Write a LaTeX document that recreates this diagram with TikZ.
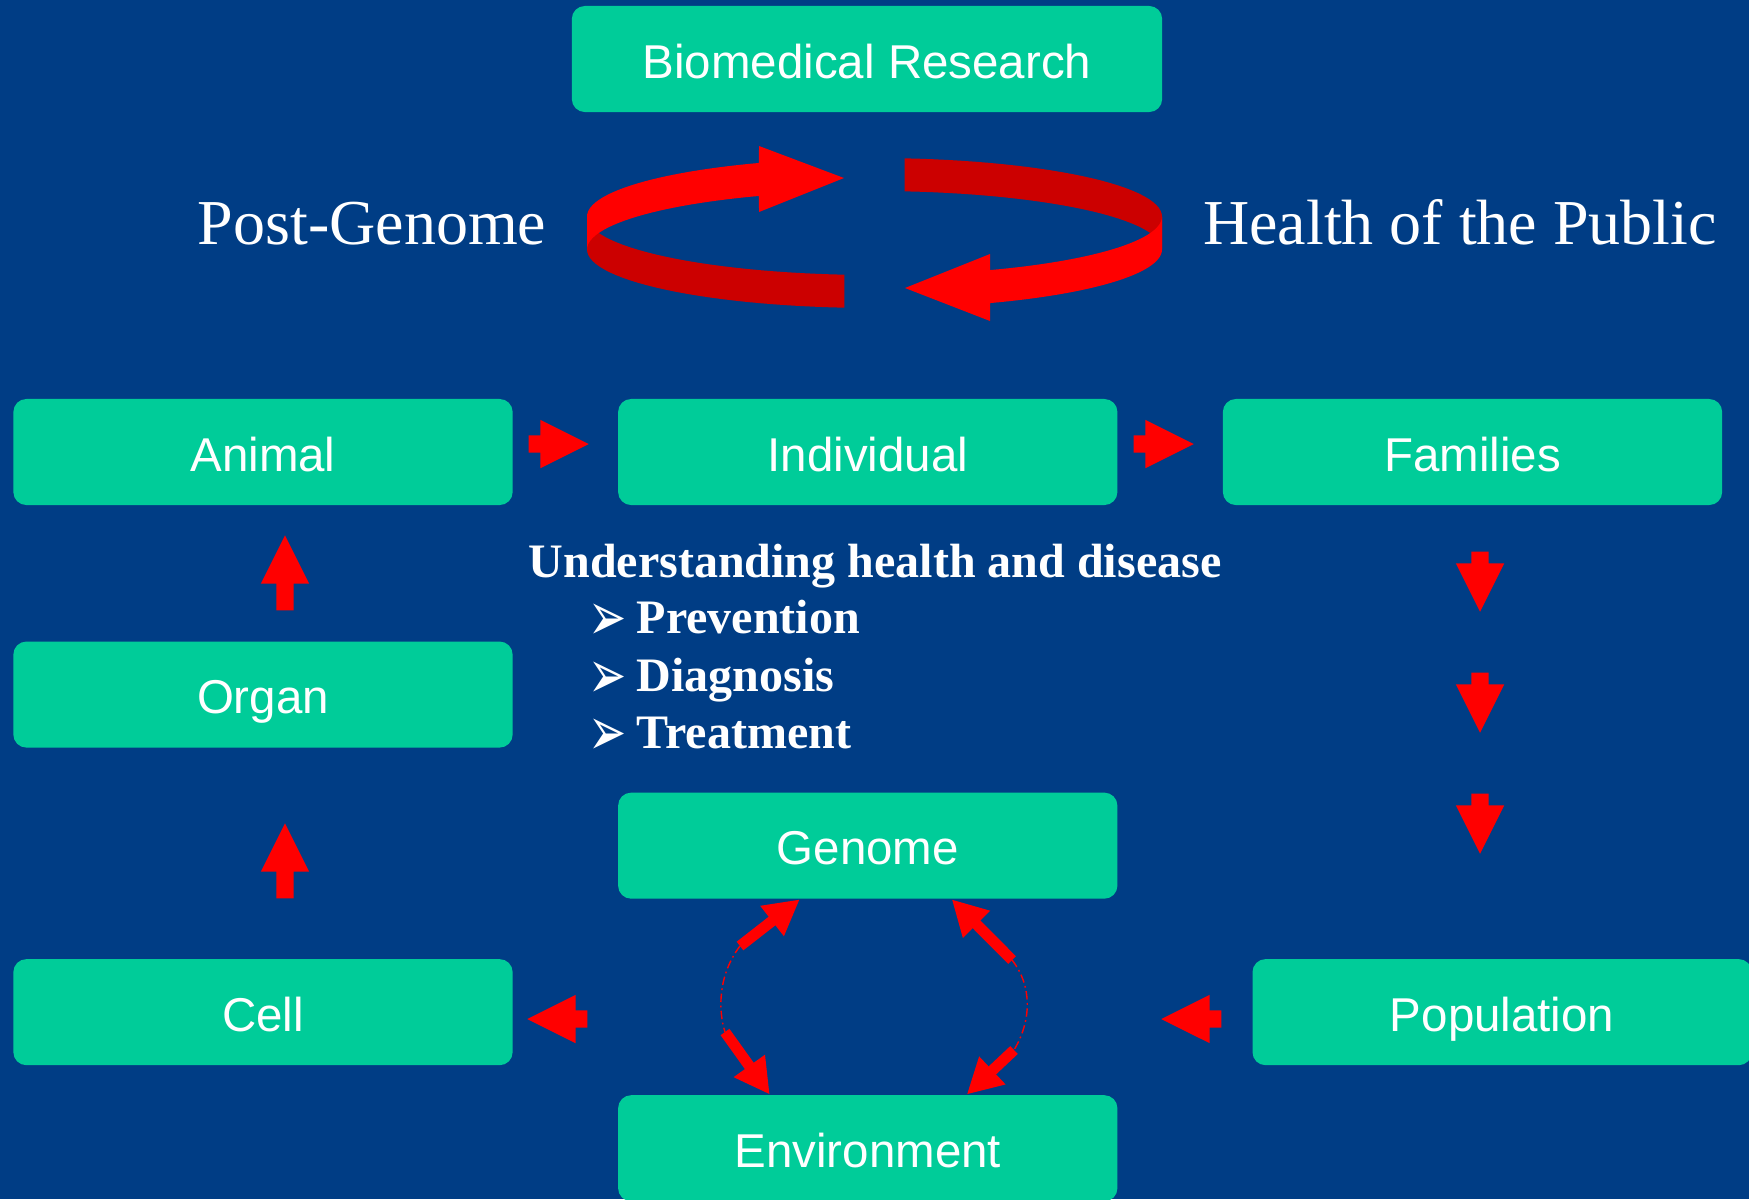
\documentclass[tikz,border=0pt]{standalone}
\usepackage{graphicx}
\usepackage{fontspec}
\setmainfont{Liberation Serif}
\setsansfont{Liberation Sans}
\newfontfamily\dingfont{DejaVu Sans}
\usetikzlibrary{positioning,shapes.arrows,arrows.meta,calc}
\definecolor{slideblue}{RGB}{0,61,133}
\definecolor{boxgreen}{RGB}{0,204,153}
\definecolor{ringbright}{RGB}{255,0,0}
\definecolor{ringdark}{RGB}{204,0,0}
\tikzstyle{every node}=[font=\sffamily]
\tikzstyle{greenbox}=[rectangle,
                      rounded corners=.13cm,
                      fill=boxgreen,
                      text=white,
                      minimum width=4.99cm,
                      minimum height=1.06cm,
                      inner sep=0pt,
                      text height=.38cm,
                      text depth=0pt,
                      font=\sffamily\fontsize{13.5pt}{16pt}\selectfont]
\tikzstyle{blockarrow}=[single arrow,
                        fill=red,
                        inner xsep=0pt,
                        inner ysep=.08cm,
                        minimum height=.6cm,
                        single arrow head extend=.155cm,
                        single arrow tip angle=53.1]
\tikzstyle{titletext}=[text=white,
                       inner sep=0pt,
                       anchor=base,
                       font=\rmfamily\fontsize{18.2pt}{22pt}\selectfont]
\tikzstyle{topic}=[text=white,
                   inner sep=0pt,
                   anchor=base west,
                   font=\rmfamily\bfseries\fontsize{13.66pt}{16pt}\selectfont]
\tikzstyle{dashloop}=[red,line width=.4pt,dash pattern=on 2.4pt off 1pt on .5pt off 1pt]
\tikzstyle{thickarrow}=[red,line width=3.1pt,-{Triangle[length=10pt,width=10.2pt]}]
\newcommand{\itemtip}{\makebox[.48cm][l]{\dingfont\mdseries\fontsize{13pt}{15pt}\selectfont\raisebox{-.07cm}[0pt][0pt]{\scalebox{1}[1.5]{➢}}}}

\begin{document}
\begin{tikzpicture}[x=0.01cm,y=-0.01cm]
\fill[slideblue] (0,0) rectangle (1749,1199);
\clip (0,0) rectangle (1749,1199);

% boxes
\node (bio) [greenbox,minimum width=5.9cm] at (867,59) {Biomedical Research};
\node (animal) [greenbox] at (263,452) {Animal};
\node (individual) [greenbox,right=1.04cm of animal] {Individual};
\node (families) [greenbox,right=1.04cm of individual] {Families};
\node (organ) [greenbox,below=1.35cm of animal] {Organ};
\node (cell) [greenbox,below=2.10cm of organ] {Cell};
\node (genome) [greenbox,below=2.86cm of individual] {Genome};
\node (environment) [greenbox,below=1.95cm of genome] {Environment};
\node (population) [greenbox,right=7.38cm of cell] {Population};

% titles
\node (postgenome) [titletext] at (372,244) {Post-Genome};
\node (health) [titletext] at (1460,244) {Health of the Public};

% ring arrows
\fill[ringdark] plot[domain=96:180,samples=30,variable=\t] ({874.5+287.5*cos(\t)},{216.5+58.5*sin(\t)})
  -- plot[domain=180:96,samples=30,variable=\t] ({874.5+287.5*cos(\t)},{249.5+58.5*sin(\t)}) -- cycle;
\fill[ringbright] plot[domain=180:246.3,samples=30,variable=\t] ({874.5+287.5*cos(\t)},{216.5+58.5*sin(\t)})
  -- (759,146) -- (844,178) -- (759,212)
  -- plot[domain=246.3:180,samples=30,variable=\t] ({874.5+287.5*cos(\t)},{249.5+58.5*sin(\t)}) -- cycle;
\fill[ringdark] plot[domain=276:360,samples=30,variable=\t] ({874.5+287.5*cos(\t)},{216.5+58.5*sin(\t)})
  -- plot[domain=360:276,samples=30,variable=\t] ({874.5+287.5*cos(\t)},{249.5+58.5*sin(\t)}) -- cycle;
\fill[ringbright] plot[domain=0:66.3,samples=30,variable=\t] ({874.5+287.5*cos(\t)},{216.5+58.5*sin(\t)})
  -- (990,254) -- (905,288) -- (990,321)
  -- plot[domain=66.3:0,samples=30,variable=\t] ({874.5+287.5*cos(\t)},{249.5+58.5*sin(\t)}) -- cycle;

% understanding
\node (understanding) [topic] at (528,577) {Understanding health and disease};
\node (prevention) [topic] at (588,633) {\itemtip Prevention};
\node (diagnosis) [topic] at (588,691) {\itemtip Diagnosis};
\node (treatment) [topic] at (588,748) {\itemtip Treatment};

% block arrows
\node (toindividual) [blockarrow,anchor=tail] at (528,444) {};
\node (tofamilies) [blockarrow,anchor=tail] at (1133,444) {};
\node (toanimal) [blockarrow,rotate=90,anchor=tail,minimum height=.75cm] at (285,611) {};
\node (toorgan) [blockarrow,rotate=90,anchor=tail,minimum height=.75cm] at (285,899) {};
\node (down1) [blockarrow,rotate=-90,anchor=tail] at (1480,551) {};
\node (down2) [blockarrow,rotate=-90,anchor=tail] at (1480,672) {};
\node (down3) [blockarrow,rotate=-90,anchor=tail] at (1480,793) {};
\node (topopleft) [blockarrow,rotate=180,anchor=tail] at (1222,1019) {};
\node (tocell) [blockarrow,rotate=180,anchor=tail] at (588,1019) {};

% genome and environment
\coordinate (gl) at (740,946);
\coordinate (el) at (725,1032);
\coordinate (gr) at (1012,960);
\coordinate (er) at (1014,1050);
\draw[dashloop] (gl) .. controls (718,975) and (718,1010) .. (el);
\draw[dashloop] (gr) .. controls (1032,985) and (1032,1020) .. (er);
\draw[thickarrow] (gl) -- ($(genome.south)+(-68,0)$);
\draw[thickarrow] (el) -- ($(environment.north)+(-98,0)$);
\draw[thickarrow] (gr) -- ($(genome.south)+(84,0)$);
\draw[thickarrow] (er) -- ($(environment.north)+(99,0)$);
\end{tikzpicture}
\end{document}
